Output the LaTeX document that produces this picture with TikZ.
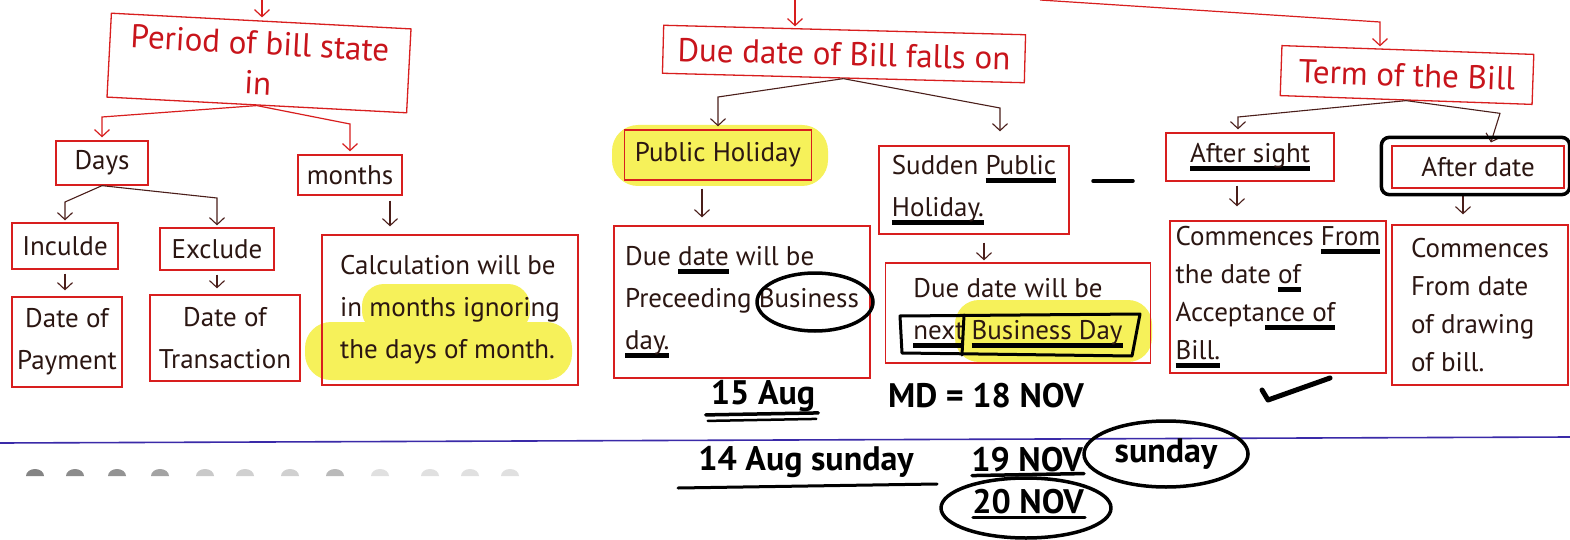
\documentclass[tikz,border=0pt]{standalone}
\usepackage{fontspec}
\setmainfont{PT Sans}
\usetikzlibrary{arrows.meta,calc}
\definecolor{inkred}{HTML}{C8141B}
\definecolor{boxred}{HTML}{D81E1E}
\definecolor{inkdark}{HTML}{2B1612}
\definecolor{linkdark}{HTML}{4A1E1A}
\definecolor{marker}{HTML}{F6F15A}
\definecolor{ruled}{HTML}{3A2AA8}
% thick black pen underline below a word
\newcommand{\bul}[1]{{\setbox0\hbox{#1}\rlap{\raisebox{-8pt}{\color{black}\rule{\wd0}{4.5pt}}}\box0}}
\tikzset{
  box/.style={draw=boxred, line width=1.3pt, inner sep=4pt, text=inkdark,
    font=\fontsize{27}{42}\selectfont, align=center},
  head/.style={box, text=inkred, font=\fontsize{33}{40}\selectfont},
  link/.style={draw=linkdark, line width=1.1pt},
  redlink/.style={draw=boxred, line width=1.2pt},
  tip/.style={-{Straight Barb[length=7pt,width=15pt]}},
  pen/.style={draw=black, line width=3.5pt, line cap=round, line join=round},
  note/.style={text=black, font=\fontsize{34}{36}\selectfont\bfseries, inner sep=1pt},
  hl/.style={fill=marker},
  smudge/.style={fill=black!60}
}
\begin{document}
\begin{tikzpicture}[x=1pt,y=-1pt]
\useasboundingbox (0,0) rectangle (1570,540);
\fill[white] (0,0) rectangle (1570,540);

% marker highlights, laid down first
\fill[hl, rounded corners=22pt] (362,284) rectangle (530,333);
\fill[hl, rounded corners=26pt] (305,322) rectangle (572,380);
\fill[hl, rounded corners=26pt] (612,125) rectangle (828,186);
\fill[hl, rounded corners=24pt] (955,300) rectangle (1152,362);

% ---- period of the bill ----
\node[head, minimum width=300pt, minimum height=84pt, rotate=-3] (period) at (259,63) {Period of bill state\\in};
\node[box, minimum width=92pt, minimum height=44pt] (days) at (102,163) {Days};
\node[box, minimum width=104pt, minimum height=40pt] (months) at (350,175) {months};
\node[box, minimum width=106pt, minimum height=46pt] (incl) at (65,246) {Inculde};
\node[box, minimum width=114pt, minimum height=42pt] (excl) at (217,249) {Exclude};
\node[box, minimum width=110pt, minimum height=90pt] (pay) at (67,342) {Date of\\Payment};
\node[box, minimum width=150pt, minimum height=86pt] (trans) at (225,338) {Date of\\Transaction};
\node[box, minimum width=256pt, minimum height=150pt, align=left] (calc) at (450,310) {Calculation will be\\in months ignoring\\the days of month.};

% ---- due date ----
\node[head, minimum width=362pt, minimum height=48pt, rotate=-1.5] (due) at (844,54) {Due date of Bill falls on};
\node[box, minimum width=187pt, minimum height=50pt] (pub) at (718,155) {Public Holiday};
\node[box, minimum width=190pt, minimum height=88pt, align=left] (sudden) at (974,190) {Sudden \bul{Public}\\\bul{Holiday.}};
\node[box, minimum width=256pt, minimum height=152pt, align=left] (pre) at (742,302) {Due \bul{date} will be\\Preceeding Business\\\bul{day.}};
\node[box, minimum width=265pt, minimum height=100pt, align=left] (nxt) at (1018,313) {Due date will be\\\bul{next} \bul{Business Day}};

% ---- term of the bill ----
\node[head, minimum width=252pt, minimum height=50pt, rotate=-2] (term) at (1407,75) {Term of the Bill};
\node[box, minimum width=168pt, minimum height=48pt] (sight) at (1250,157) {\bul{After sight}};
\node[box, minimum width=172pt, minimum height=42pt] (adate) at (1478,167) {After date};
\node[box, minimum width=216pt, minimum height=152pt, align=left, font=\fontsize{27}{38}\selectfont] (acc) at (1278,297) {Commences \bul{From}\\the date \bul{of}\\Accepta\bul{nce of}\\\bul{Bill.}};
\node[box, minimum width=176pt, minimum height=160pt, align=left, font=\fontsize{27}{38}\selectfont] (drw) at (1480,305) {Commences\\From date\\of drawing\\of bill.};

% ---- connectors ----
\coordinate (t1) at (262,0);
\coordinate (t2) at (795,0);
\coordinate (t3) at (1040,0);
\coordinate (t3b) at (1380,22);
\draw[redlink,tip,shorten >=3pt] (t1) -- (t1 |- period.north);
\draw[redlink,tip,shorten >=3pt] (period.south) -- (days.north |- 0,117) -- (days.north);
\draw[redlink,tip,shorten >=3pt] (period.south) -- (months.north |- 0,124) -- (months.north);
\draw[link,tip,shorten >=2pt] (days.south) -- (incl.north |- 0,202) -- (incl.north);
\draw[link,tip,shorten >=2pt] (days.south) -- (excl.north |- 0,198) -- (excl.north);
\draw[link,tip,shorten <=4pt,shorten >=6pt] (incl.south) -- (incl.south |- pay.north);
\draw[link,tip,shorten <=4pt,shorten >=6pt] (excl.south) -- (excl.south |- trans.north);
\coordinate (m1) at ($(months.south)+(40,0)$);
\draw[link,tip,shorten <=5pt,shorten >=8pt] (m1) -- (m1 |- calc.north);

\draw[redlink,tip,shorten >=3pt] (t2) -- (t2 |- due.north);
\draw[link,tip,shorten >=3pt] (due.south) -- (pub.north |- 0,97) -- (pub.north);
\coordinate (s1) at ($(sudden.north)+(26,0)$);
\draw[link,tip,shorten >=14pt] (due.south) -- (s1 |- 0,108) -- (s1);
\coordinate (p1) at ($(pub.south)+(-16,0)$);
\draw[link,tip,shorten <=8pt,shorten >=8pt] (p1) -- (p1 |- pre.north);
\coordinate (p2) at ($(sudden.south)+(10,0)$);
\draw[link,tip,shorten <=8pt,shorten >=2pt] (p2) -- (p2 |- nxt.north);

\draw[redlink,tip,shorten >=3pt] (t3) -- (t3b) -- (t3b |- term.north);
\coordinate (r1) at ($(sight.north)+(-12,0)$);
\draw[link,tip,shorten >=3pt] (term.south) -- (r1 |- 0,117) -- (r1);
\coordinate (r2) at ($(adate.north)+(12,0)$);
\draw[link,tip,shorten >=3pt] (term.south) -- ($(r2)+(10,-32)$) -- (r2);
\coordinate (a1) at ($(sight.south)+(-13,0)$);
\draw[link,tip,shorten <=4pt,shorten >=14pt] (a1) -- (a1 |- acc.north);
\coordinate (a2) at ($(adate.south)+(-15,0)$);
\draw[link,tip,shorten <=6pt,shorten >=10pt] (a2) -- (a2 |- drw.north);

% ---- pen marks ----
\draw[pen] (815,302) ellipse [x radius=58, y radius=29];
\draw[pen, line width=3pt] (900,316) -- (1140,314) -- (1132,356) -- (902,353) -- cycle;
\draw[pen, line width=3pt] (964,315) -- (962,355);
\draw[pen, rounded corners=8pt] ($(adate.north west)+(-10,-8)$) rectangle ($(adate.south east)+(5,6)$);
\draw[pen] (1093,181) -- (1133,181);
\draw[pen, line width=5pt] (1262,390) -- (1268,400) -- (1330,378);

% ruled line of the page and show-through below it
\draw[ruled, line width=1.6pt] (0,443) -- (1570,437);
\foreach \sx/\op in {35/0.8,75/0.75,117/0.7,160/0.6,205/0.35,245/0.3,290/0.3,335/0.45,380/0.2,430/0.2,470/0.2,510/0.2}{
  \fill[smudge, opacity=\op] (\sx-9,476) arc[start angle=180, end angle=360, x radius=9, y radius=7] -- cycle;
}

% ---- worked dates ----
\node[note] (n1) at (763,396) {15 Aug};
\draw[pen] ($(n1.south west)+(-4,2)$) -- ($(n1.south east)+(2,0)$);
\draw[pen, line width=2.5pt] ($(n1.south west)+(-2,8)$) -- ($(n1.south east)+(0,6)$);
\node[note] (n2) at (986,396) {MD = 18 NOV};
\node[note] (n3) at (806,462) {14 Aug sunday};
\draw[pen, line width=3pt] (678,488) -- (937,484);
\node[note] (n4) at (1027,460) {19 NOV};
\draw[pen] ($(n4.south west)+(2,2)$) -- ($(n4.south east)+(0,0)$);
\node[note] (n5) at (1166,454) {sunday};
\draw[pen] ($(n5)+(0,0)$) ellipse [x radius=82, y radius=33];
\node[note] (n6) at (1028,502) {20 NOV};
\draw[pen] ($(n6.south west)+(2,2)$) -- ($(n6.south east)+(0,2)$);
\draw[pen] ($(n6)+(-2,6)$) ellipse [x radius=85, y radius=30];
\end{tikzpicture}
\end{document}
